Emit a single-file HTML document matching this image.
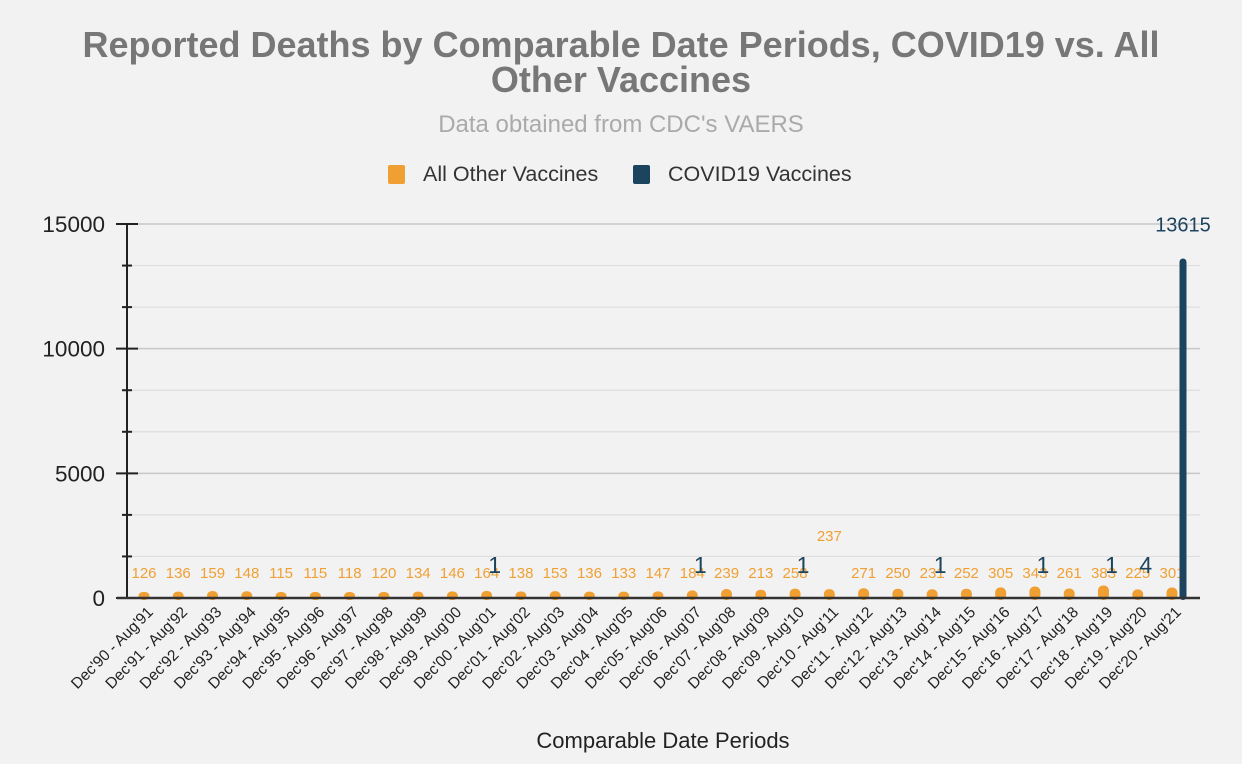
<!DOCTYPE html>
<html><head><meta charset="utf-8"><style>
html,body{margin:0;padding:0;background:#f2f2f2;width:1242px;height:764px;overflow:hidden}
svg{display:block;font-family:"Liberation Sans",Arial,sans-serif}
</style></head><body>
<svg id="chart" width="1242" height="764">
<text x="621" y="57" text-anchor="middle" font-size="36" font-weight="bold" fill="#777">Reported Deaths by Comparable Date Periods, COVID19 vs. All</text>
<text x="621" y="92" text-anchor="middle" font-size="36" font-weight="bold" fill="#777">Other Vaccines</text>
<text x="621" y="132" text-anchor="middle" font-size="24" fill="#aaa">Data obtained from CDC's VAERS</text>
<g>
<g><rect x="388" y="165" width="17" height="19" rx="2" fill="#f0a033"/><text x="423" y="181" font-size="21.5" fill="#333">All Other Vaccines</text></g>
<g><rect x="633" y="165" width="17" height="19" rx="2" fill="#1d445e"/><text x="668" y="181" font-size="21.5" fill="#333">COVID19 Vaccines</text></g>
</g>
<g id="plot"></g>
<text x="663" y="748" text-anchor="middle" font-size="22" fill="#222">Comparable Date Periods</text>
</svg>
<script>
const categories=["Dec'90 - Aug'91","Dec'91 - Aug'92","Dec'92 - Aug'93","Dec'93 - Aug'94","Dec'94 - Aug'95","Dec'95 - Aug'96","Dec'96 - Aug'97","Dec'97 - Aug'98","Dec'98 - Aug'99","Dec'99 - Aug'00","Dec'00 - Aug'01","Dec'01 - Aug'02","Dec'02 - Aug'03","Dec'03 - Aug'04","Dec'04 - Aug'05","Dec'05 - Aug'06","Dec'06 - Aug'07","Dec'07 - Aug'08","Dec'08 - Aug'09","Dec'09 - Aug'10","Dec'10 - Aug'11","Dec'11 - Aug'12","Dec'12 - Aug'13","Dec'13 - Aug'14","Dec'14 - Aug'15","Dec'15 - Aug'16","Dec'16 - Aug'17","Dec'17 - Aug'18","Dec'18 - Aug'19","Dec'19 - Aug'20","Dec'20 - Aug'21"];
const otherVaccines=[126,136,159,148,115,115,118,120,134,146,164,138,153,136,133,147,184,239,213,258,237,271,250,231,252,305,343,261,383,225,301];
const covidVaccines=[0,0,0,0,0,0,0,0,0,0,1,0,0,0,0,0,1,0,0,1,0,0,0,1,0,0,1,0,1,4,13615];
const yTicks=[0,5000,10000,15000];
const yMax=15000;

const NS="http://www.w3.org/2000/svg";
const plot=document.getElementById('plot');
const X0=127,X1=1200,Y0=598,Y1=224;
const firstC=144,lastC=1172;
const slot=(lastC-firstC)/(categories.length-1);
function xO(i){return firstC+slot*i;}
function y(v){return Y0-(v/yMax)*(Y0-Y1);}
function mk(tag,attrs,parent){const e=document.createElementNS(NS,tag);for(const k in attrs)e.setAttribute(k,attrs[k]);(parent||plot).appendChild(e);return e;}

for(let k=0;k<=9;k++){
  const v=k*yMax/9, yy=y(v), major=k%3===0;
  if(k>0){const g=mk('line',{x1:X0,x2:X1,y1:yy,y2:yy,stroke:major?'#c8c8c8':'#dedede','stroke-width':major?1.5:1.2});
  
  }
  const t=mk('line',{x1:major?116:122,x2:major?138:132,y1:yy,y2:yy,stroke:'#222','stroke-width':2});
  
  
}
yTicks.forEach(v=>{
  const t=mk('text',{x:105,y:y(v)+8,'text-anchor':'end','font-size':22.5,fill:'#222'});
  t.textContent=v;
  
  
});
const ax=mk('line',{x1:X0,x2:X0,y1:Y1,y2:Y0+1,stroke:'#222','stroke-width':2});



const bw=11;
categories.forEach((c,i)=>{
  const ox=xO(i);
  const v=otherVaccines[i];
  const h=Math.max(Y0-y(v),3)+3;
  const b=mk('rect',{x:ox-bw/2,y:Y0-h,width:bw,height:h+2,rx:5,fill:'#f0a033'});
  
  
  const lblY=(i===20)?541:578;
  const l=mk('text',{x:ox,y:lblY,'text-anchor':'middle','font-size':15,fill:'#f0a033'});
  l.textContent=v;
  
  
  const cv=covidVaccines[i];
  if(cv>0){
    const cxx=ox+11;
    const ch=Math.max(Y0-y(cv),0);
    if(ch>3){
      const r=mk('rect',{x:cxx-3.5,y:y(cv),width:7,height:ch+2,rx:3.5,fill:'#1d445e'});
      
      
    }
    const big=cv>1000;
    const t=mk('text',{x:big?cxx:cxx-3,y:big?y(cv)-27:573,'text-anchor':'middle','font-size':big?20:23,fill:'#1d445e'});
    t.textContent=cv;
    
    
  }
  const xl=mk('text',{transform:`translate(${ox+10},${Y0+15}) rotate(-45)`,'text-anchor':'end','font-size':15.5,fill:'#222'});
  xl.textContent=c;
  
  
});
const xa=mk('line',{x1:X0-10,x2:X1,y1:Y0,y2:Y0,stroke:'#333','stroke-width':2.5});


</script>
</body></html>
